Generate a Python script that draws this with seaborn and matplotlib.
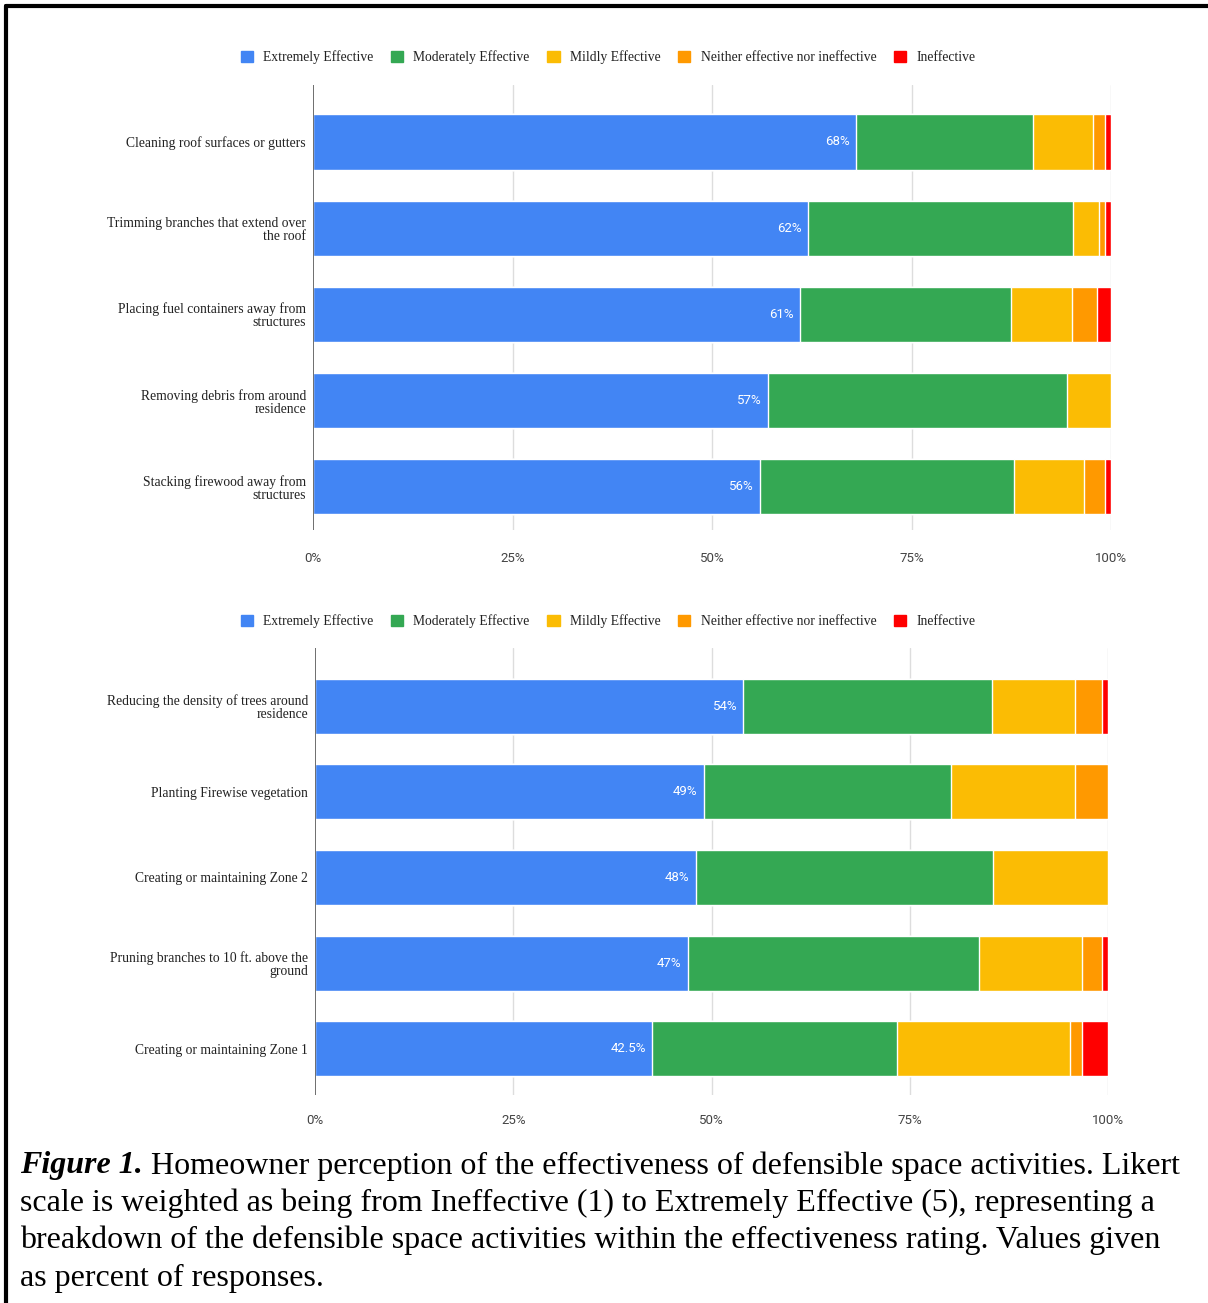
import matplotlib
matplotlib.use("Agg")
import matplotlib.pyplot as plt
import matplotlib.patches as mpatches
from matplotlib.lines import Line2D
import numpy as np
import pandas as pd
import seaborn as sns

sns.set_theme(style="white")
plt.rcParams["font.family"] = ["Liberation Serif", "DejaVu Serif"]

# Response categories (Likert scale, best to worst)
levels = ["Extremely Effective", "Moderately Effective", "Mildly Effective",
          "Neither effective nor ineffective", "Ineffective"]
level_colors = ["#4285F4", "#34A853", "#FBBC04", "#FF9900", "#FF0000"]

# Panel A: structure-related activities (percent of responses)
activities_a = ["Cleaning roof surfaces or gutters",
                "Trimming branches that extend over\nthe roof",
                "Placing fuel containers away from\nstructures",
                "Removing debris from around\nresidence",
                "Stacking firewood away from\nstructures"]
extremely_a = [68, 62, 61, 57, 56]
moderately_a = [22.2, 33.2, 26.5, 37.5, 31.9]
mildly_a = [7.6, 3.3, 7.6, 5.5, 8.7]
neither_a = [1.4, 0.7, 3.2, 0.0, 2.6]
ineffective_a = [0.8, 0.8, 1.7, 0.0, 0.8]
labels_a = ["68%", "62%", "61%", "57%", "56%"]

# Panel B: vegetation-related activities (percent of responses)
activities_b = ["Reducing the density of trees around\nresidence",
                "Planting Firewise vegetation",
                "Creating or maintaining Zone 2",
                "Pruning branches to 10 ft. above the\nground",
                "Creating or maintaining Zone 1"]
extremely_b = [54, 49, 48, 47, 42.5]
moderately_b = [31.4, 31.2, 37.5, 36.7, 30.9]
mildly_b = [10.5, 15.7, 14.5, 13.0, 21.8]
neither_b = [3.3, 4.1, 0.0, 2.5, 1.5]
ineffective_b = [0.8, 0.0, 0.0, 0.8, 3.3]
labels_b = ["54%", "49%", "48%", "47%", "42.5%"]

ticks = [0, 25, 50, 75, 100]
tick_labels = ["0%", "25%", "50%", "75%", "100%"]

W, H = 1208, 1303
fig = plt.figure(figsize=(W / 100, H / 100), dpi=100)


def px_axes(left, top, right, bottom):
    return fig.add_axes([left / W, 1 - bottom / H, (right - left) / W, (bottom - top) / H])


def draw_panel(ax, activities, series, value_labels, ylim, xpad):
    df = pd.DataFrame({"activity": activities})
    cum = np.zeros(len(activities))
    cums = []
    for s in series:
        cum = cum + np.array(s, dtype=float)
        cums.append(cum.copy())
    # draw from the full stack down so each segment shows on top of the next
    for i in range(len(series) - 1, -1, -1):
        df["cum"] = cums[i]
        sns.barplot(data=df, x="cum", y="activity", orient="h", color=level_colors[i],
                    saturation=1, width=0.64, ax=ax, order=activities)
    for j, lab in enumerate(value_labels):
        ax.text(series[0][j] - 0.75, j, lab, ha="right", va="center", color="white",
                fontsize=9.5, family=["Roboto", "DejaVu Sans"])
    ax.set_xlim(0, 100)
    ax.set_ylim(*ylim)
    ax.set_xticks(ticks)
    ax.set_xticklabels(tick_labels, family=["Roboto", "DejaVu Sans"], fontsize=9.5, color="#444444")
    ax.tick_params(axis="x", length=0, pad=xpad)
    ax.tick_params(axis="y", length=0, pad=5, labelsize=9.8, labelcolor="#222222")
    for lab in ax.get_yticklabels():
        lab.set_linespacing(1.0)
    ax.set_xlabel("")
    ax.set_ylabel("")
    for sp in ax.spines.values():
        sp.set_visible(False)
    ax.grid(False)
    for t in ticks[1:]:
        ax.axvline(t, color="#DDDDDD", lw=1, zorder=0)
    ax.axvline(0, color="#555555", lw=1.2, zorder=5)


def draw_legend(y_px, x_center_px):
    handles = [mpatches.Patch(facecolor=c, edgecolor=c, label=l)
               for c, l in zip(level_colors, levels)]
    fig.legend(handles=handles, loc="center", bbox_to_anchor=(x_center_px / W, 1 - y_px / H),
               ncol=5, frameon=False, fontsize=9.8, handlelength=0.9, handleheight=0.9,
               handletextpad=0.75, columnspacing=1.3, labelcolor="#222222")


ax1 = px_axes(313, 85, 1111, 530)
draw_panel(ax1, activities_a,
           [extremely_a, moderately_a, mildly_a, neither_a, ineffective_a],
           labels_a, (4.5, -0.66), 16)
draw_legend(57, 608)

ax2 = px_axes(315, 648, 1108, 1095)
draw_panel(ax2, activities_b,
           [extremely_b, moderately_b, mildly_b, neither_b, ineffective_b],
           labels_b, (4.54, -0.68), 14)
draw_legend(621, 608)

# Caption
caption = [
    ("Figure 1.", " Homeowner perception of the effectiveness of defensible space activities. Likert"),
    (None, "scale is weighted as being from Ineffective (1) to Extremely Effective (5), representing a"),
    (None, "breakdown of the defensible space activities within the effectiveness rating. Values given"),
    (None, "as percent of responses."),
]
cap_size = 23
line_y = [1166, 1203, 1240, 1278]
for (bold, rest), y in zip(caption, line_y):
    if bold:
        t = fig.text(20 / W, 1 - y / H, bold, fontsize=cap_size, fontweight="bold", style="italic",
                     va="center", ha="left", color="black")
        fig.canvas.draw()
        bb = t.get_window_extent()
        fig.text(bb.x1 / W, 1 - y / H, rest, fontsize=cap_size, va="center", ha="left", color="black")
    else:
        fig.text(20 / W, 1 - y / H, rest, fontsize=cap_size, va="center", ha="left", color="black")

# Frame around the figure (top and left edges)
fig.add_artist(Line2D([5.5 / W, 1.0], [1 - 5.5 / H, 1 - 5.5 / H], color="black", lw=3,
                      transform=fig.transFigure))
fig.add_artist(Line2D([5.5 / W, 5.5 / W], [0.0, 1 - 5.5 / H], color="black", lw=3,
                      transform=fig.transFigure))

fig.savefig("out.png", dpi=100, facecolor="white")
